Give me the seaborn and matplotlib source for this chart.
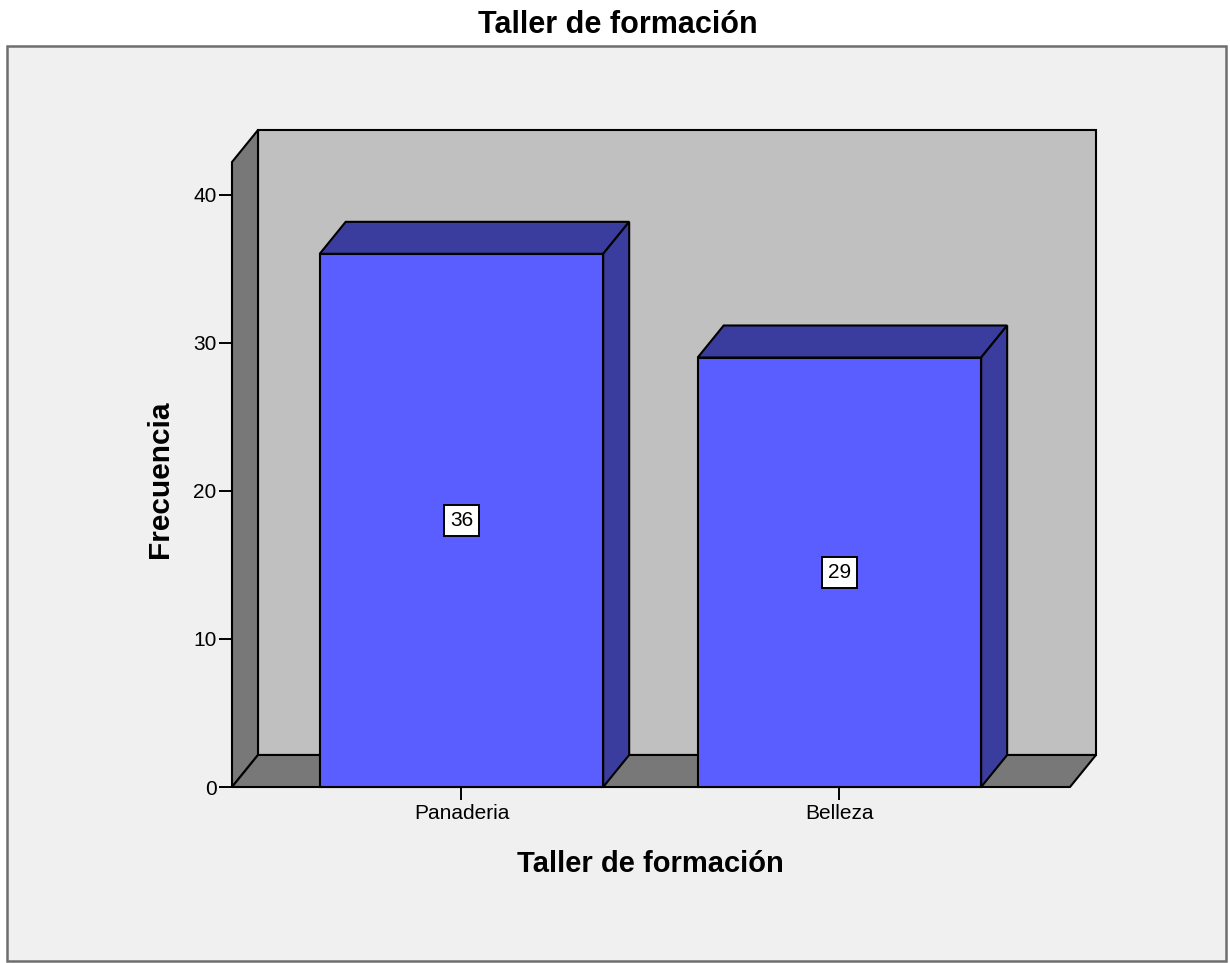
import matplotlib
matplotlib.use("Agg")
import matplotlib.pyplot as plt
from matplotlib.patches import Polygon, Rectangle
import seaborn as sns

# data
categories = ["Panaderia", "Belleza"]
frequencies = [36, 29]
y_ticks = [0, 10, 20, 30, 40]
title_text = "Taller de formación"
x_label = "Taller de formación"
y_label = "Frecuencia"

sns.set_style("white")
plt.rcParams["font.family"] = ["Liberation Sans", "DejaVu Sans"]
plt.rcParams["text.color"] = "black"
plt.rcParams["xtick.color"] = "black"
plt.rcParams["ytick.color"] = "black"

front_col = "#5a5eff"
dark_col = "#3a3d9e"
wall_col = "#c0c0c0"
floor_col = "#787878"
edge_lw = 1.5

W, H = 1230, 963
fig = plt.figure(figsize=(W / 100, H / 100), dpi=100, facecolor="white")

# outer SPSS-like frame
fig.patches.append(Rectangle((7 / W, 1 - 961 / H), 1219 / W, 915 / H,
                             transform=fig.transFigure, facecolor="#f0f0f0",
                             edgecolor="#6e6e6e", linewidth=1.8, zorder=-5))

ax = fig.add_axes([232 / W, (H - 787) / H, 864 / W, 657 / H])
ax.set_facecolor("none")
ax.set_zorder(1)

# depth offsets for the pseudo-3d look
dx = 26 / 378
dy = 32 / 14.8
x0, x1 = -0.607, 1.61
ymax = 42.2

# walls and floor
ax.add_patch(Polygon([(x0 + dx, dy), (x1 + dx, dy), (x1 + dx, ymax + dy), (x0 + dx, ymax + dy)],
                     closed=True, facecolor=wall_col, edgecolor="black", lw=edge_lw, zorder=1,
                     clip_on=False))
ax.add_patch(Polygon([(x0, 0), (x0 + dx, dy), (x0 + dx, ymax + dy), (x0, ymax)],
                     closed=True, facecolor=floor_col, edgecolor="black", lw=edge_lw, zorder=1,
                     clip_on=False))
ax.add_patch(Polygon([(x0, 0), (x1, 0), (x1 + dx, dy), (x0 + dx, dy)],
                     closed=True, facecolor=floor_col, edgecolor="black", lw=edge_lw, zorder=1,
                     clip_on=False))
n_walls = len(ax.patches)

sns.barplot(x=categories, y=frequencies, ax=ax, width=0.75, color=front_col,
            saturation=1, edgecolor="black", linewidth=edge_lw, zorder=3)

# top and side faces built from the bars seaborn drew
for p, v in zip(ax.patches[n_walls:], frequencies):
    bx, bw, bh = p.get_x(), p.get_width(), p.get_height()
    p.set_clip_on(False)
    ax.add_patch(Polygon([(bx, bh), (bx + bw, bh), (bx + bw + dx, bh + dy), (bx + dx, bh + dy)],
                         closed=True, facecolor=dark_col, edgecolor="black", lw=edge_lw, zorder=2.5,
                         clip_on=False))
    ax.add_patch(Polygon([(bx + bw, 0), (bx + bw + dx, dy), (bx + bw + dx, bh + dy), (bx + bw, bh)],
                         closed=True, facecolor=dark_col, edgecolor="black", lw=edge_lw, zorder=2.5,
                         clip_on=False))
    ax.text(bx + bw / 2, bh / 2, str(v), ha="center", va="center", fontsize=15, zorder=5,
            bbox=dict(boxstyle="square,pad=0.3", facecolor="white", edgecolor="black", lw=1.4))

ax.set_xlim(x0, x1 + dx)
ax.set_ylim(0, ymax + dy)
ax.set_yticks(y_ticks)
for s in ax.spines.values():
    s.set_visible(False)
ax.tick_params(axis="both", direction="out", length=9.5, width=1.4, color="black",
               labelsize=15, labelcolor="black", left=True, bottom=True)
ax.tick_params(axis="y", pad=1.5)
ax.tick_params(axis="x", pad=3)
ax.set_xlabel("")
ax.set_ylabel("")

fig.text(618 / W, 1 - 33 / H, title_text, ha="center", va="baseline",
         fontsize=22, fontweight="bold")
fig.text(650 / W, 1 - 872 / H, x_label, ha="center", va="baseline",
         fontsize=21, fontweight="bold")
fig.text(160 / W, 1 - 479 / H, y_label, ha="center", va="center", rotation=90,
         fontsize=21.5, fontweight="bold")

fig.savefig("out.png", dpi=100, facecolor="white")
